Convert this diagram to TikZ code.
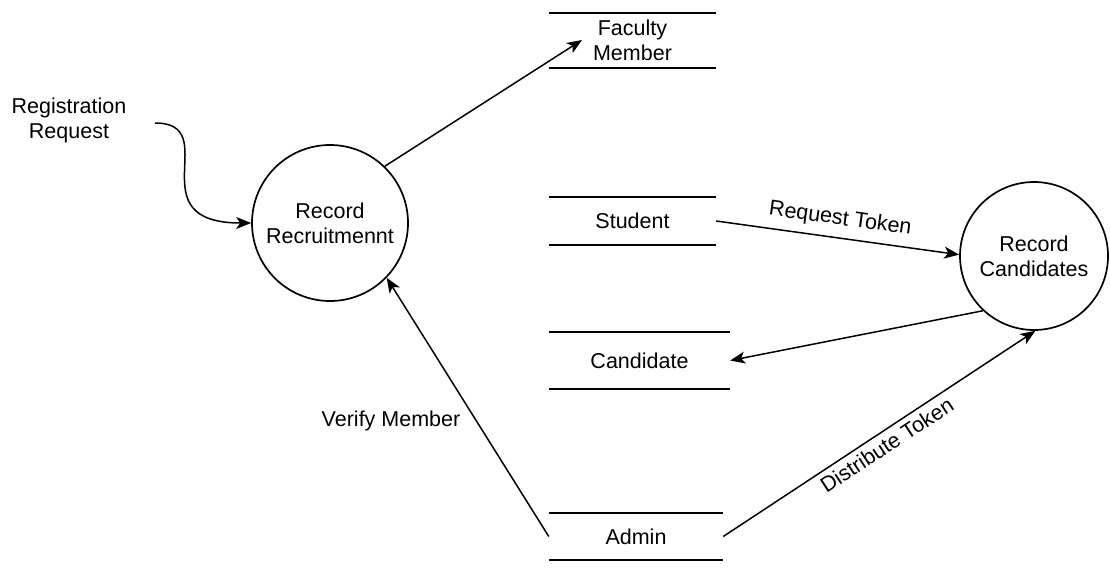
\documentclass[tikz,border=0pt]{standalone}
\usepackage{fontspec}
\setmainfont{Liberation Sans}
\usetikzlibrary{arrows.meta}
\begin{document}
\begin{tikzpicture}[x=1pt,y=-1pt,
  font=\fontsize{21.5}{25}\selectfont,
  proc/.style={circle,draw,line width=1.7pt,inner sep=0pt,align=center},
  store/.style={inner sep=0pt,align=center},
  sline/.style={line width=2pt},
  flow/.style={line width=1.5pt,-{Stealth[length=15pt,width=12pt,inset=4pt]}},
  lbl/.style={align=center,inner sep=0pt}]
\useasboundingbox (0,0) rectangle (1110,571);

% processes
\node[proc,minimum size=156pt] (rr) at (330,223) {Record\\Recruitmennt};
\node[proc,minimum size=148pt] (rc) at (1034,256) {Record\\Candidates};

% data stores
\node[store,minimum width=167pt,minimum height=55pt] (fac) at (632.5,40.5) {Faculty\\Member};
\node[store,minimum width=167pt,minimum height=48pt] (stu) at (632.5,221) {Student};
\node[store,minimum width=181pt,minimum height=57pt] (cand) at (639.5,360.5) {Candidate};
\node[store,minimum width=174pt,minimum height=47pt] (adm) at (636,536.5) {Admin};
\foreach \s in {fac,stu,cand,adm}{
  \draw[sline] (\s.north west) -- (\s.north east);
  \draw[sline] (\s.south west) -- (\s.south east);
}

% external text
\node[lbl] (reg) at (69,120) {Registration\\Request};
\coordinate (rs) at (155,123);
\coordinate (ft) at (582,40);

% flows
\draw[flow] (rs) .. controls (225,123) and (135,223) .. (rr.180);
\draw[flow] (rr.46) -- (ft);
\draw[flow] (stu.east) -- (rc.179)
  node[midway,sloped,above,inner sep=8pt] (rt) {Request Token};
\draw[flow] (rc.227) -- (cand.east);
\draw[flow] (adm.east) -- (rc.-89)
  node[midway,sloped,below,inner sep=5pt] (dt) {Distribute Token};
\draw[flow] (adm.west) -- (rr.-44);
\node[lbl] (vm) at (391,421) {Verify Member};
\end{tikzpicture}
\end{document}
